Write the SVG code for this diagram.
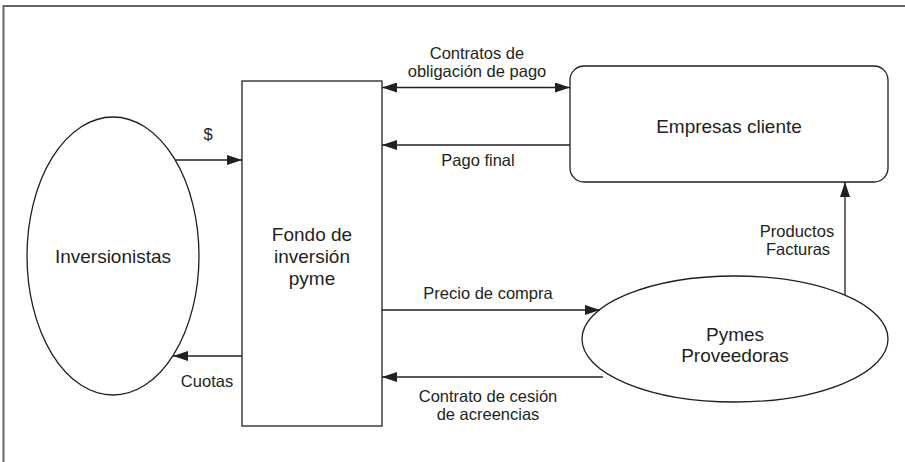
<svg xmlns="http://www.w3.org/2000/svg" width="905" height="462" viewBox="0 0 905 462">
<defs>
<style>
.shape{fill:#fff;stroke:#231f20;stroke-width:1.3}
.edge{fill:none;stroke:#231f20;stroke-width:1.3}
.node{font-family:"Liberation Sans",Arial,sans-serif;font-size:19px;fill:#231f20;text-anchor:middle}
.lbl{font-family:"Liberation Sans",Arial,sans-serif;font-size:16.5px;fill:#231f20;text-anchor:middle}
</style>
<marker id="ah" viewBox="0 0 15 10" refX="15" refY="5" markerWidth="15" markerHeight="10" markerUnits="userSpaceOnUse" orient="auto-start-reverse">
<path d="M0,0 L15,5 L0,10 z" fill="#231f20"/>
</marker>
</defs>
<rect width="905" height="462" fill="#fff"/>
<path d="M3.5,470 V6 H910" fill="none" stroke="#666" stroke-width="2"/>

<g id="inversionistas">
<ellipse class="shape" cx="113" cy="256" rx="86" ry="139"/>
<text class="node" x="113" y="263">Inversionistas</text>
</g>
<g id="fondo">
<rect class="shape" x="242" y="81" width="140" height="345"/>
<text class="node" x="312" y="241">Fondo de</text>
<text class="node" x="312" y="263">inversión</text>
<text class="node" x="312" y="285">pyme</text>
</g>
<g id="empresas">
<rect class="shape" x="570" y="66" width="318" height="116" rx="14"/>
<text class="node" x="729" y="133">Empresas cliente</text>
</g>
<g id="pymes">
<ellipse class="shape" cx="735" cy="339" rx="153" ry="63"/>
<text class="node" x="735" y="341">Pymes</text>
<text class="node" x="735" y="362">Proveedoras</text>
</g>

<g id="connectors">
<path class="edge" d="M175,160 H242" marker-end="url(#ah)"/>
<path class="edge" d="M242,356 H173" marker-end="url(#ah)"/>
<path class="edge" d="M382,87.5 H570" marker-start="url(#ah)" marker-end="url(#ah)"/>
<path class="edge" d="M570,145 H382" marker-end="url(#ah)"/>
<path class="edge" d="M382,310 H600" marker-end="url(#ah)"/>
<path class="edge" d="M603,377 H382" marker-end="url(#ah)"/>
<path class="edge" d="M845,295 V182" marker-end="url(#ah)"/>
<text class="lbl" x="208" y="140">$</text>
<text class="lbl" x="207" y="387">Cuotas</text>
<text class="lbl" x="477" y="59">Contratos de</text>
<text class="lbl" x="477" y="77">obligación de pago</text>
<text class="lbl" x="478" y="166">Pago final</text>
<text class="lbl" x="488" y="299">Precio de compra</text>
<text class="lbl" x="488" y="402">Contrato de cesión</text>
<text class="lbl" x="488" y="420">de acreencias</text>
<text class="lbl" x="797" y="237">Productos</text>
<text class="lbl" x="798" y="255">Facturas</text>
</g>
</svg>
